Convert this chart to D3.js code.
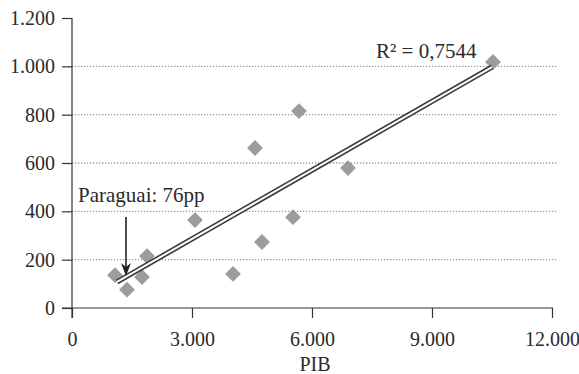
<!DOCTYPE html>
<html><head><meta charset="utf-8">
<script src="https://cdn.jsdelivr.net/npm/d3@7"></script>
<style>body{margin:0;background:#fff}svg{display:block}</style>
</head><body><svg id="c" width="579" height="374" font-family="Liberation Serif"></svg>
<script>
const pib = [1075, 1375, 1750, 1875, 3075, 4025, 4575, 4750, 5525, 5675, 6900, 10525];
const valores = [136, 76, 128, 215, 364, 141, 662, 273, 376, 815, 579, 1018];
const trendX = [1125, 10500];
const trendY = [108, 997];
const xTicks = [0, 3000, 6000, 9000, 12000];
const yTicks = [0, 200, 400, 600, 800, 1000, 1200];
const gridTicks = [200, 400, 600, 800, 1000];
const xTitle = "PIB";
const r2Label = "R² = 0,7544";
const noteLabel = "Paraguai: 76pp";
const noteX = 1350;

const FONT = "Liberation Serif";
const fmt = v => d3.format(",")(v).replace(/,/g, ".");
const svg = d3.select("#c");
const x = d3.scaleLinear().domain([0, 12000]).range([72, 552]);
const y = d3.scaleLinear().domain([0, 1200]).range([308, 18]);

// grid
svg.append("g").selectAll("line").data(gridTicks).join("line")
  .attr("x1", 72).attr("x2", 557).attr("y1", d => y(d)).attr("y2", d => y(d))
  .attr("stroke", "#9a9a9a").attr("stroke-width", 1.3).attr("stroke-dasharray", "1.3,1.7");

// axes
const xa = svg.append("g").attr("transform", "translate(0,308)")
  .call(d3.axisBottom(x).tickValues(xTicks).tickFormat(fmt).tickSizeInner(10).tickSizeOuter(0).tickPadding(14));
const ya = svg.append("g").attr("transform", "translate(72,0)")
  .call(d3.axisLeft(y).tickValues(yTicks).tickFormat(fmt).tickSizeInner(10).tickSizeOuter(0).tickPadding(7));
[xa, ya].forEach(a => {
  a.attr("font-family", FONT).attr("font-size", 20);
  a.select(".domain").attr("stroke", "#333").attr("stroke-width", 1.2);
  a.selectAll(".tick line").attr("stroke", "#333").attr("stroke-width", 1.2);
  a.selectAll("text").attr("fill", "#2a2a2a");
});
xa.select(".domain").attr("d", "M62,0H553");
ya.select(".domain").attr("d", "M0," + y(1200) + "V318");

// points
const sym = d3.symbol(d3.symbolSquare, 125);
svg.append("g").selectAll("path").data(pib.map((p, i) => [p, valores[i]])).join("path")
  .attr("d", sym).attr("transform", d => `translate(${x(d[0])},${y(d[1])}) rotate(45)`)
  .attr("fill", "#9c9c9c");

// trend line (double line)
const tl = d3.line().x(d => x(d[0])).y(d => y(d[1]));
const td = [[trendX[0], trendY[0]], [trendX[1], trendY[1]]];
svg.append("path").attr("d", tl(td)).attr("stroke", "#3a3a3a").attr("stroke-width", 5.2).attr("fill", "none");
svg.append("path").attr("d", tl(td)).attr("stroke", "#fff").attr("stroke-width", 2).attr("fill", "none");

// R2 label
svg.append("text").attr("x", 376).attr("y", 58).attr("font-family", FONT).attr("font-size", 21).attr("fill", "#2a2a2a").text(r2Label);

// annotation
svg.append("text").attr("x", 78).attr("y", 202).attr("font-family", FONT).attr("font-size", 21).attr("fill", "#2a2a2a").text(noteLabel);
const ax = x(noteX);
svg.append("line").attr("x1", ax).attr("x2", ax).attr("y1", 217).attr("y2", 268)
  .attr("stroke", "#222").attr("stroke-width", 1.6);
svg.append("path").attr("d", `M${ax - 5},${263}L${ax},${276}L${ax + 5},${263}L${ax},${267}Z`).attr("fill", "#222");

// x title
svg.append("text").attr("x", 315).attr("y", 371).attr("text-anchor", "middle").attr("font-family", FONT).attr("font-size", 20).attr("fill", "#2a2a2a").text(xTitle);
</script></body></html>
